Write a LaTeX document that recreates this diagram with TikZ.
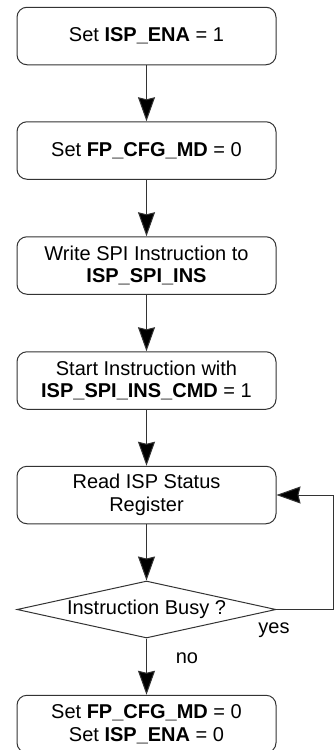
\documentclass[tikz,border=0pt]{standalone}
\usepackage{fontspec}
\setmainfont{Liberation Sans}
\usetikzlibrary{shapes.geometric,arrows.meta}
\begin{document}
\begin{tikzpicture}[x=1pt,y=-1pt,
  every node/.style={font=\fontsize{20}{22.5}\selectfont, text=black},
  stepbox/.style={draw=black!80, line width=1pt, rounded corners=10pt,
    minimum width=259pt, minimum height=57.5pt, inner sep=0pt, align=center},
  decision/.style={draw=black!80, line width=1pt, diamond, aspect=4.54,
    minimum width=259pt, minimum height=57pt, inner sep=0pt},
  arr/.style={draw=black!80, line width=1pt,
    -{Stealth[length=24pt,width=17pt,inset=2pt,fill=black]}},
  lbl/.style={inner sep=0pt}
]
\useasboundingbox (0,0) rectangle (336,750);
\node[stepbox] (b1) at (146.5,36) {Set \textbf{ISP\_ENA} = 1};
\node[stepbox] (b2) at (146.5,150.5) {Set \textbf{FP\_CFG\_MD} = 0};
\node[stepbox] (b3) at (146.5,265.5) {Write SPI Instruction to\\\textbf{ISP\_SPI\_INS}};
\node[stepbox] (b4) at (146.5,380.5) {Start Instruction with\\\textbf{ISP\_SPI\_INS\_CMD} = 1};
\node[stepbox] (b5) at (146.5,495) {Read ISP Status\\Register};
\node[decision] (d) at (146.5,609.5) {Instruction Busy ?};
\node[stepbox] (b6) at (146.5,724) {Set \textbf{FP\_CFG\_MD} = 0\\Set \textbf{ISP\_ENA} = 0};
\coordinate (c1) at (333,609.5);
\coordinate (c2) at (333,495);
\draw[arr] (b1) -- (b2);
\draw[arr] (b2) -- (b3);
\draw[arr] (b3) -- (b4);
\draw[arr] (b4) -- (b5);
\draw[arr] (b5) -- (d);
\draw[arr] (d) -- (b6);
\draw[arr] (d.east) -- (c1) -- (c2) -- (b5.east);
\node[lbl, anchor=base] (yes) at (274,633) {yes};
\node[lbl, anchor=base] (no) at (187,663) {no};
\end{tikzpicture}
\end{document}
